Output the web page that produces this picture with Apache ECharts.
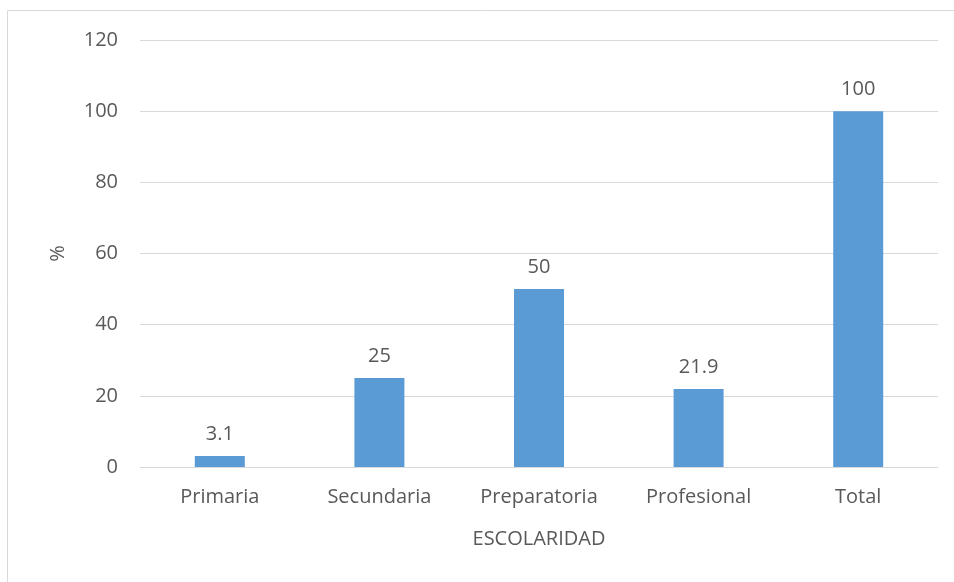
<!DOCTYPE html>
<html><head><meta charset="utf-8">
<script src="https://cdn.jsdelivr.net/npm/echarts@6/dist/echarts.min.js"></script>
<style>html,body{margin:0;padding:0;background:#fff}#c{width:954px;height:582px}</style>
</head><body><div id="c"></div>
<script>
var categories = ["Primaria", "Secundaria", "Preparatoria", "Profesional", "Total"];
var values = [3.1, 25, 50, 21.9, 100];
var yTicks = [0, 20, 40, 60, 80, 100, 120];
var xName = "ESCOLARIDAD";
var yName = "%";

var font = "'Open Sans', Calibri, sans-serif";
var txt = "#595959";
var chart = echarts.init(document.getElementById('c'));
chart.setOption({
  animation: false,
  backgroundColor: '#fff',
  graphic: [
    {type: 'line', shape: {x1: 7.5, y1: 10.5, x2: 954, y2: 10.5}, style: {stroke: '#d9d9d9', lineWidth: 1}},
    {type: 'line', shape: {x1: 7.5, y1: 10.5, x2: 7.5, y2: 582}, style: {stroke: '#d9d9d9', lineWidth: 1}}
  ],
  grid: {left: 140, right: 16, top: 40, bottom: 115, containLabel: false},
  xAxis: {
    type: 'category', data: categories,
    name: xName, nameLocation: 'middle', nameGap: 62,
    nameTextStyle: {color: txt, fontSize: 20, fontFamily: font},
    axisLine: {lineStyle: {color: '#d9d9d9'}},
    axisTick: {show: false},
    axisLabel: {color: txt, fontSize: 20, fontFamily: font, margin: 20}
  },
  yAxis: {
    type: 'value', min: yTicks[0], max: yTicks[yTicks.length - 1], interval: 20,
    name: yName, nameLocation: 'middle', nameGap: 72, nameRotate: 90,
    nameTextStyle: {color: txt, fontSize: 20, fontFamily: font},
    axisLine: {show: false}, axisTick: {show: false},
    axisLabel: {color: txt, fontSize: 20, fontFamily: font, margin: 22},
    splitLine: {lineStyle: {color: '#d9d9d9', width: 1}}
  },
  series: [{
    type: 'bar', data: values, barWidth: 50,
    itemStyle: {color: '#5b9bd5'},
    label: {show: true, position: 'top', distance: 12, color: txt, fontSize: 20, fontFamily: font}
  }]
});
</script></body></html>
